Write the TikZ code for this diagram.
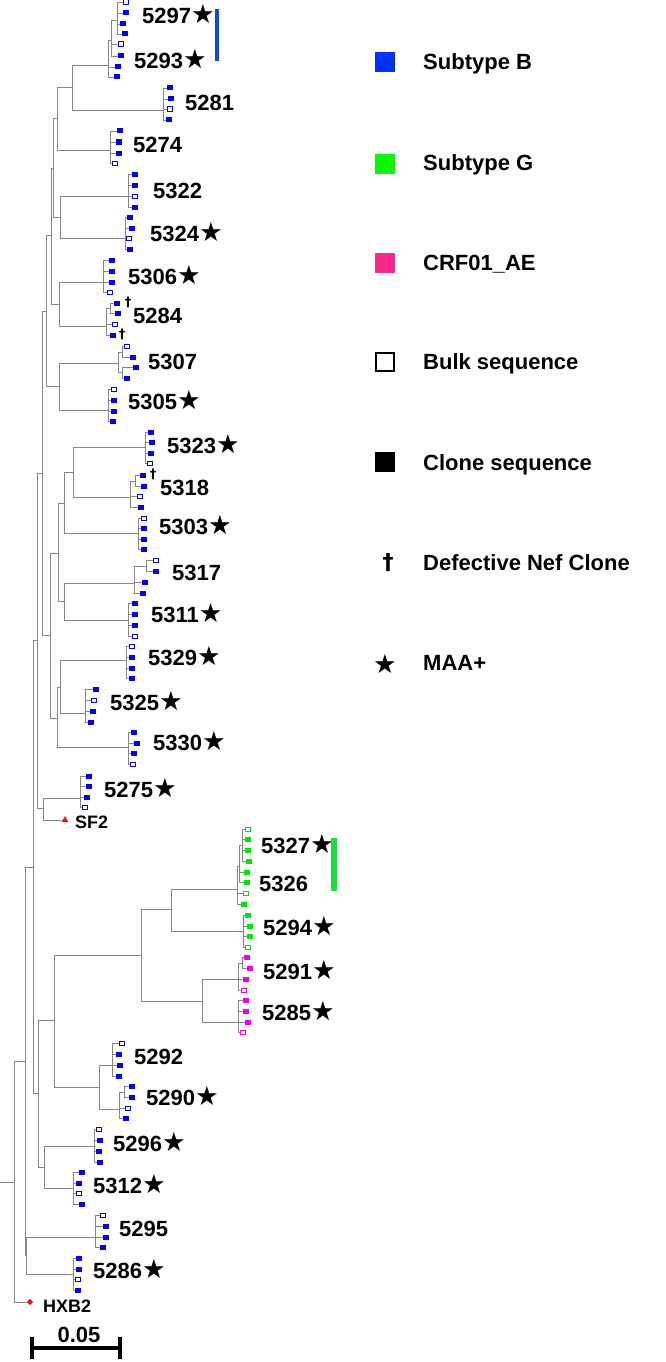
\documentclass[tikz,border=0pt]{standalone}
\usepackage{fontspec}
\setmainfont{Liberation Sans}
\newfontfamily\symf{DejaVu Sans}[Scale=1.2]
\newfontfamily\dagf{DejaVu Sans}
\usetikzlibrary{shapes.geometric}
\definecolor{treegray}{RGB}{135,135,135}
\definecolor{leafblue}{RGB}{0,0,235}
\definecolor{leafgreen}{RGB}{0,230,0}
\definecolor{leafmag}{RGB}{240,0,240}
\definecolor{legblue}{RGB}{5,50,250}
\definecolor{leggreen}{RGB}{10,245,10}
\definecolor{legmag}{RGB}{250,40,140}
\definecolor{barblue}{RGB}{20,70,230}
\definecolor{bargreen}{RGB}{20,225,60}
\definecolor{refred}{RGB}{235,20,20}
\newcommand\st{{\symf\mdseries ★}}
\newcommand\innode[4]{\coordinate (#2) at (#3,#4); \draw[br] (#1) |- (#2);}
\newcommand\leafset[3]{%
  \foreach \lx/\ly/\ls [count=\li] in {#3} {%
    \edef\leafcmd{\noexpand\node[\ls] (#2-\li) at (\lx,\ly) {};}%
    \leafcmd
    \draw[br] (#1) |- (#2-\li.west);
  }}
\begin{document}
\begin{tikzpicture}[x=1pt,y=-1pt,
  br/.style={draw=treegray, line width=0.9pt},
  sq/.style={rectangle, inner sep=0pt, minimum width=6pt, minimum height=5pt},
  bf/.style={sq, fill=leafblue},
  bo/.style={sq, draw=leafblue, fill=white, line width=0.8pt, minimum width=5.2pt, minimum height=4.2pt},
  gf/.style={sq, fill=leafgreen},
  go/.style={sq, draw=leafgreen, fill=white, line width=0.8pt, minimum width=5.2pt, minimum height=4.2pt},
  mf/.style={sq, fill=leafmag},
  mo/.style={sq, draw=leafmag, fill=white, line width=0.8pt, minimum width=5.2pt, minimum height=4.2pt},
  lab/.style={anchor=west, inner sep=0pt, text height=15.5pt, text depth=0pt, font=\fontsize{22}{24}\selectfont\bfseries},
  reflab/.style={anchor=west, inner sep=0pt, text height=13pt, text depth=0pt, font=\fontsize{18}{20}\selectfont\bfseries},
  dag/.style={inner sep=0pt, font=\dagf\fontsize{13}{13}\selectfont\bfseries},
  tri/.style={regular polygon, regular polygon sides=3, fill=refred, inner sep=0pt, minimum size=8pt},
  dia/.style={diamond, fill=refred, inner sep=0pt, minimum size=6.5pt},
  sbar/.style={draw=black, line width=3.5pt},
  key/.style={rectangle, inner sep=0pt, minimum size=20pt}]
\useasboundingbox (0,0) rectangle (666,1362);

% ---------- tree backbone ----------
\coordinate (stem) at (0,1182);
\coordinate (root) at (14,1182);
\draw[br] (stem) -- (root);
\innode{root}{K}{25}{1061}
\innode{K}{J}{33}{867}
\innode{J}{I}{37}{640}
\innode{I}{H}{42}{473}
\innode{H}{G}{46}{311}
\innode{G}{F}{51}{235}
\innode{F}{E}{53}{168}
\innode{E}{D}{57}{118}
\innode{D}{B}{72}{87}
\innode{B}{A}{108}{65}
\innode{A}{a1}{111}{40}
\innode{a1}{a11}{117}{20}
\leafset{a11}{q97}{126/2/bo,126/13/bf,123/24/bf,125/34/bf}
\leafset{a1}{q93a}{121/44/bo,121/56/bf}
\leafset{A}{q93b}{118/67/bf,117/77/bf}
\innode{B}{c81}{163}{110}
\leafset{c81}{q81}{170/88/bf,171/99/bf,170/109/bo,169/120/bf}
\innode{D}{c74}{110}{150}
\leafset{c74}{q74}{120/131/bf,119/142/bf,119/153/bf,115/163/bo}
\innode{E}{n2224}{60}{217}
\innode{n2224}{c22}{128}{196}
\leafset{c22}{q22}{135/174/bf,135/185/bf,135/196/bo,135/207/bf}
\innode{n2224}{c24}{125}{238}
\leafset{c24}{q24}{130/217/bf,132/228/bf,129/238/bo,130/249/bf}
\innode{F}{n0684}{59}{304}
\innode{n0684}{c06}{103}{282}
\leafset{c06}{q06}{112/260/bf,112/271/bf,112/282/bf,110/292/bo}
\innode{n0684}{c84}{106}{326}
\innode{c84}{c84s}{110}{308}
\leafset{c84s}{q84a}{117/303/bf,118/313/bf}
\leafset{c84}{q84b}{115/324/bo,113/335/bf}
\innode{G}{n0705}{59}{386}
\innode{n0705}{c07}{118}{363}
\innode{c07}{c07a}{122}{352}
\leafset{c07a}{q07a}{127/346/bo,133/357/bf}
\innode{c07}{c07b}{122}{372}
\leafset{c07b}{q07b}{136/367/bf,127/378/bf}
\innode{n0705}{c05}{108}{410}
\leafset{c05}{q05}{114/389/bo,114/400/bf,114/411/bf,113/421/bf}
\innode{H}{L}{50}{635}
\innode{L}{M}{58}{553}
\innode{M}{N}{64}{503}
\innode{N}{P}{73}{472}
\innode{P}{c23}{145}{447}
\leafset{c23}{q23}{151/432/bf,152/442/bf,151/453/bf,150/463/bo}
\innode{P}{c18}{130}{497}
\innode{c18}{c18s}{135}{481}
\leafset{c18s}{q18a}{143/475/bf,144/486/bf}
\leafset{c18}{q18b}{140/496/bo,141/507/bf}
\innode{N}{c03}{138}{533}
\leafset{c03}{q03}{144/518/bo,144/528/bf,144/539/bf,144/549/bf}
\innode{M}{O}{64}{601}
\innode{O}{c17}{134}{583}
\innode{c17}{c17s}{146}{566}
\leafset{c17s}{q17a}{156/560/bo,156/571/bf}
\leafset{c17}{q17b}{145/582/bf,143/593/bf}
\innode{O}{c11}{128}{620}
\leafset{c11}{q11}{135/603/bf,135/614/bf,135/625/bf,135/636/bo}
\innode{L}{Q}{57}{718}
\innode{Q}{R}{60}{687}
\innode{R}{c29}{126}{660}
\leafset{c29}{q29}{132/646/bo,132/657/bf,132/668/bf,132/678/bf}
\innode{R}{c25}{85}{713}
\leafset{c25}{q25}{96/689/bf,94/700/bo,93/711/bf,91/722/bf}
\innode{Q}{c30}{128}{747}
\leafset{c30}{q30}{134/732/bf,137/743/bf,134/753/bf,133/764/bo}
\innode{I}{nSF}{43}{808}
\innode{nSF}{c75}{80}{798}
\leafset{c75}{q75}{89/776/bf,89/786/bf,87/797/bf,85/807/bo}
\node[tri] (sf2) at (65,820) {};
\draw[br] (nSF) |- (sf2.west);
\innode{J}{Y}{38}{1093}
\innode{Y}{W}{54}{1020}
\innode{W}{S}{141}{955}
\innode{S}{T}{171}{909}
\innode{T}{v1}{237}{889}
\innode{v1}{v2}{239}{866}
\innode{v2}{v3}{242}{845}
\leafset{v3}{q27}{248/829/go,248/839/gf,248/850/gf,249/861/gf}
\leafset{v2}{q26a}{247/872/gf,247/882/gf}
\leafset{v1}{q26b}{246/893/go,244/904/gf}
\innode{T}{c94}{243}{931}
\leafset{c94}{q94}{248/915/gf,250/926/gf,250/936/gf,248/947/go}
\innode{S}{U}{202}{1001}
\innode{U}{c91}{238}{979}
\innode{c91}{c91s}{242}{963}
\leafset{c91s}{q91a}{247/957/mf,250/968/mf}
\leafset{c91}{q91b}{246/979/mf,244/990/mo}
\innode{U}{c85}{238}{1022}
\leafset{c85}{q85}{246/1000/mf,246/1011/mf,248/1022/mf,243/1032/mo}
\innode{W}{X}{99}{1087}
\innode{X}{c92}{112}{1065}
\leafset{c92}{q92}{122/1043/bo,119/1054/bf,120/1065/bf,119/1076/bf}
\innode{X}{c90}{119}{1109}
\innode{c90}{c90s}{124}{1092}
\leafset{c90s}{q90a}{132/1086/bf,132/1097/bf}
\leafset{c90}{q90b}{128/1108/bo,126/1118/bf}
\innode{Y}{Z}{44}{1167}
\innode{Z}{c96}{94}{1146}
\leafset{c96}{q96}{99/1129/bo,100/1140/bf,99/1151/bf,100/1162/bf}
\innode{Z}{c12}{73}{1188}
\leafset{c12}{q12}{82/1172/bf,79/1183/bf,79/1193/bo,82/1204/bf}
\innode{K}{K2}{26}{1255}
\innode{K2}{c95}{95}{1237}
\leafset{c95}{q95}{103/1215/bo,106/1226/bf,106/1237/bf,103/1247/bf}
\innode{K2}{c86}{73}{1274}
\leafset{c86}{q86}{79/1258/bf,79/1269/bf,78/1279/bo,78/1290/bf}
\node[dia] (hxb2) at (30,1302) {};
\draw[br] (root) |- (hxb2.west);

% ---------- labels ----------
\node[lab] (t5297) at (142,16) {5297\st};
\node[lab] (t5293) at (134,61) {5293\st};
\node[lab] (t5281) at (185,103) {5281};
\node[lab] (t5274) at (133,145) {5274};
\node[lab] (t5322) at (153,191) {5322};
\node[lab] (t5324) at (150,234) {5324\st};
\node[lab] (t5306) at (128,277) {5306\st};
\node[lab] (t5284) at (133,316) {5284};
\node[lab] (t5307) at (148,362) {5307};
\node[lab] (t5305) at (128,402) {5305\st};
\node[lab] (t5323) at (167,446) {5323\st};
\node[lab] (t5318) at (160,488) {5318};
\node[lab] (t5303) at (159,527) {5303\st};
\node[lab] (t5317) at (172,573) {5317};
\node[lab] (t5311) at (151,615) {5311\st};
\node[lab] (t5329) at (148,658) {5329\st};
\node[lab] (t5325) at (110,703) {5325\st};
\node[lab] (t5330) at (153,743) {5330\st};
\node[lab] (t5275) at (104,790) {5275\st};
\node[reflab] (tsf2) at (75,822) {SF2};
\node[lab] (t5327) at (261,846) {5327\st};
\node[lab] (t5326) at (259,884) {5326};
\node[lab] (t5294) at (263,928) {5294\st};
\node[lab] (t5291) at (263,972) {5291\st};
\node[lab] (t5285) at (262,1013) {5285\st};
\node[lab] (t5292) at (134,1057) {5292};
\node[lab] (t5290) at (146,1098) {5290\st};
\node[lab] (t5296) at (113,1144) {5296\st};
\node[lab] (t5312) at (93,1186) {5312\st};
\node[lab] (t5295) at (119,1229) {5295};
\node[lab] (t5286) at (93,1271) {5286\st};
\node[reflab] (thxb2) at (43,1306) {HXB2};

% defective clone daggers
\node[dag] (d1) at (128,302) {†};
\node[dag] (d2) at (122,334) {†};
\node[dag] (d3) at (153,474) {†};

% subtype bars
\coordinate (bbT) at (217,9);
\coordinate (bbB) at (217,61);
\draw[draw=barblue, line width=4.5pt] (bbT) -- (bbB);
\coordinate (gbT) at (334,838);
\coordinate (gbB) at (334,891);
\draw[draw=bargreen, line width=6pt] (gbT) -- (gbB);

% scale bar
\coordinate (sbL) at (32,1348);
\coordinate (sbR) at (120,1348);
\draw[sbar] (sbL) -- (sbR);
\draw[sbar] ([yshift=11pt]sbL) -- ([yshift=-11pt]sbL);
\draw[sbar] ([yshift=11pt]sbR) -- ([yshift=-11pt]sbR);
\node[lab, anchor=center] (sbt) at (79,1335) {0.05};

% ---------- legend ----------
\node[key, fill=legblue] (kB) at (385,62) {};
\node[lab] (lB) at (423,62) {Subtype B};
\node[key, fill=leggreen] (kG) at (385,164) {};
\node[lab] (lG) at (423,163) {Subtype G};
\node[key, fill=legmag] (kAE) at (385,263) {};
\node[lab] (lAE) at (423,263) {CRF01\_AE};
\node[key, draw=black, fill=white, line width=2.2pt, minimum size=17.5pt] (kBulk) at (385,362) {};
\node[lab] (lBulk) at (423,362) {Bulk sequence};
\node[key, fill=black] (kClone) at (385,462) {};
\node[lab] (lClone) at (423,463) {Clone sequence};
\node[inner sep=0pt, font=\dagf\fontsize{22}{22}\selectfont\bfseries] (kDef) at (388,563) {†};
\node[lab] (lDef) at (423,563) {Defective Nef Clone};
\node[inner sep=0pt, font=\fontsize{22}{22}\selectfont] (kMAA) at (385,664) {\st};
\node[lab] (lMAA) at (423,663) {MAA+};
\end{tikzpicture}
\end{document}
